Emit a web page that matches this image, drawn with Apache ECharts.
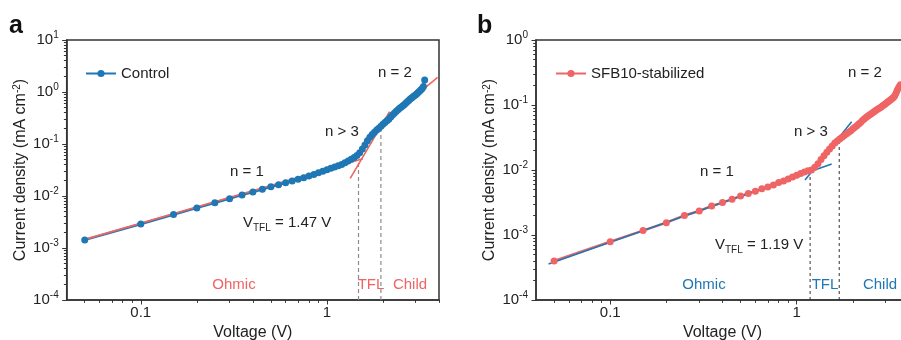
<!DOCTYPE html>
<html>
<head>
<meta charset="utf-8">
<script src="https://cdn.jsdelivr.net/npm/echarts@6/dist/echarts.min.js"></script>
<style>
  html, body { margin: 0; padding: 0; background: #fff; }
  #main { width: 901px; height: 340px; }
</style>
</head>
<body>
<div id="main"></div>
<script>
// Voltage steps of the J-V sweeps (V)
const voltage = [
  0.05, 0.10, 0.15, 0.20, 0.25, 0.30, 0.35, 0.40, 0.45, 0.50,
  0.55, 0.60, 0.65, 0.70, 0.75, 0.80, 0.85, 0.90, 0.95, 1.00,
  1.05, 1.10, 1.15, 1.20, 1.25, 1.30, 1.35, 1.40, 1.45, 1.50,
  1.55, 1.60, 1.65, 1.70, 1.75, 1.80, 1.85, 1.90, 1.95, 2.00,
  2.05, 2.10, 2.15, 2.20, 2.25, 2.30, 2.35, 2.40, 2.45, 2.50,
  2.55, 2.60, 2.65, 2.70, 2.75, 2.80, 2.85, 2.90, 2.95, 3.00,
  3.05, 3.10, 3.15, 3.20, 3.25, 3.30, 3.35, 3.40, 3.45, 3.50,
  3.55, 3.60
];

// Current density (mA cm-2), Control device
const controlJ = [
  1.43e-3, 2.9e-3, 4.4e-3, 5.9e-3, 7.4e-3, 8.9e-3, 1.05e-2, 1.19e-2, 1.35e-2, 1.5e-2,
  1.65e-2, 1.8e-2, 1.95e-2, 2.1e-2, 2.25e-2, 2.42e-2, 2.6e-2, 2.8e-2, 3.0e-2, 3.2e-2,
  3.4e-2, 3.6e-2, 3.8e-2, 4.05e-2, 4.35e-2, 4.7e-2, 5.1e-2, 5.5e-2, 6.0e-2, 6.8e-2,
  8.0e-2, 9.6e-2, 0.115, 0.135, 0.152, 0.168, 0.185, 0.20, 0.22, 0.24,
  0.26, 0.28, 0.30, 0.33, 0.36, 0.39, 0.42, 0.45, 0.48, 0.51,
  0.54, 0.57, 0.61, 0.65, 0.69, 0.73, 0.77, 0.81, 0.85, 0.89,
  0.94, 0.99, 1.04, 1.10, 1.17, 1.28, 1.70
];

// Current density (mA cm-2), SFB10-stabilized device
const sfbJ = [
  3.98e-4, 7.9e-4, 1.17e-3, 1.55e-3, 2.0e-3, 2.34e-3, 2.8e-3, 3.15e-3, 3.56e-3, 3.97e-3,
  4.35e-3, 4.7e-3, 5.15e-3, 5.5e-3, 5.9e-3, 6.4e-3, 6.8e-3, 7.25e-3, 7.8e-3, 8.3e-3,
  8.8e-3, 9.3e-3, 9.7e-3, 1.0e-2, 1.1e-2, 1.25e-2, 1.45e-2, 1.65e-2, 1.88e-2, 2.1e-2,
  2.35e-2, 2.6e-2, 2.8e-2, 3.0e-2, 3.2e-2, 3.4e-2, 3.6e-2, 3.8e-2, 4.0e-2, 4.3e-2,
  4.55e-2, 4.8e-2, 5.1e-2, 5.4e-2, 5.8e-2, 6.1e-2, 6.4e-2, 6.7e-2, 7.0e-2, 7.3e-2,
  7.6e-2, 7.9e-2, 8.2e-2, 8.5e-2, 8.8e-2, 9.1e-2, 9.4e-2, 9.8e-2, 0.101, 0.105,
  0.109, 0.113, 0.117, 0.121, 0.126, 0.131, 0.138, 0.150, 0.165, 0.180,
  0.192, 0.205
];

// Fitted segments [V, J]
const controlFitOhmic = [[0.0497, 1.45e-3], [1.56, 5.2e-2]];
const controlFitTfl = [[1.334, 2.19e-2], [2.17, 0.418]];
const controlFitChild = [[1.894, 0.215], [3.93, 1.92]];
const sfbFitOhmic = [[0.0467, 3.58e-4], [1.54, 1.236e-2]];
const sfbFitTfl = [[1.108, 7.0e-3], [1.97, 5.53e-2]];
const sfbFitChild = [[1.51, 2.43e-2], [3.37, 0.134]];

// Region boundaries [V, top J]
const controlBounds = [[1.478, 0.046], [1.95, 0.2]];
const sfbBounds = [[1.18, 9.3e-3], [1.69, 0.029]];

const xMajor = [0.1, 1];
const xMinor = [0.05, 0.06, 0.07, 0.08, 0.09, 0.2, 0.3, 0.4, 0.5, 0.6, 0.7, 0.8, 0.9, 2, 3, 4];
const yMajorA = [1e-4, 1e-3, 1e-2, 1e-1, 1, 10];
const yMajorB = [1e-4, 1e-3, 1e-2, 1e-1, 1];

const BLUE = '#1f77b4';
const RED = '#ef6464';
const AXIS = '#333';
const FONT = 'Liberation Sans, Arial, sans-serif';

function minorY(maxExp) {
  let out = [];
  for (let e = -4; e < maxExp; e++) {
    for (let m = 2; m <= 9; m++) out.push(m * Math.pow(10, e));
  }
  return out;
}

function pairs(xs, ys) {
  return ys.map((y, i) => [xs[i], y]);
}

function xAxes(grid) {
  return [
    {
      type: 'log', gridIndex: grid, min: 0.04, max: 4, position: 'bottom',
      name: 'Voltage (V)', nameLocation: 'middle', nameGap: 22,
      nameTextStyle: { fontSize: 16, color: '#222', fontFamily: FONT },
      axisLine: { lineStyle: { color: AXIS, width: 1.5 } },
      axisTick: { customValues: xMajor, length: 4.5, lineStyle: { color: AXIS } },
      axisLabel: { customValues: xMajor, margin: 5, fontSize: 15, color: '#222', fontFamily: FONT,
        formatter: v => String(v) },
      splitLine: { show: false }
    },
    {
      type: 'log', gridIndex: grid, min: 0.04, max: 4, position: 'bottom',
      axisLine: { show: false },
      axisTick: { customValues: xMinor, length: 2.8, lineStyle: { color: AXIS } },
      axisLabel: { show: false },
      splitLine: { show: false }
    }
  ];
}

function yAxes(grid, maxV, major) {
  return [
    {
      type: 'log', gridIndex: grid, min: 1e-4, max: maxV, position: 'left',
      name: 'Current density (mA cm{s|-2})', nameLocation: 'middle', nameGap: 38,
      nameTextStyle: { fontSize: 16, color: '#222', fontFamily: FONT,
        rich: { s: { fontSize: 10, verticalAlign: 'top', lineHeight: 10, fontFamily: FONT, color: '#222' } } },
      axisLine: { lineStyle: { color: AXIS, width: 1.5 } },
      axisTick: { customValues: major, length: 4.5, lineStyle: { color: AXIS } },
      axisLabel: {
        customValues: major, margin: 8, color: '#222',
        formatter: v => '{b|10}{s|' + Math.round(Math.log10(v)) + '}',
        rich: {
          b: { fontSize: 15, lineHeight: 20, verticalAlign: 'middle', fontFamily: FONT, color: '#222' },
          s: { fontSize: 10, lineHeight: 10, verticalAlign: 'top', fontFamily: FONT, color: '#222' }
        }
      },
      splitLine: { show: false }
    },
    {
      type: 'log', gridIndex: grid, min: 1e-4, max: maxV, position: 'left',
      axisLine: { show: false },
      axisTick: { customValues: minorY(Math.round(Math.log10(maxV))), length: 2.8, lineStyle: { color: AXIS } },
      axisLabel: { show: false },
      splitLine: { show: false }
    }
  ];
}

function boundSeries(bounds, xi, yi, color, width, dash) {
  return bounds.map(b => ({
    type: 'line', xAxisIndex: xi, yAxisIndex: yi, silent: true,
    data: [[b[0], 1e-4], [b[0], b[1]]],
    symbol: 'none', lineStyle: { color: color, width: width, type: dash }
  }));
}

function fitSeries(seg, xi, yi, color) {
  return {
    type: 'line', xAxisIndex: xi, yAxisIndex: yi, silent: true,
    data: seg, symbol: 'none', lineStyle: { color: color, width: 1.6 }
  };
}

function txt(x, y, text, color) {
  return {
    type: 'text', x: x, y: y,
    style: { text: text, fill: color || '#222', font: '15px ' + FONT, textAlign: 'center', textVerticalAlign: 'middle' }
  };
}

function vtfl(x, y, val) {
  return {
    type: 'text', x: x, y: y,
    style: {
      text: '{m|V}{u|TFL}{m| = ' + val + ' V}',
      textAlign: 'left', textVerticalAlign: 'middle',
      rich: {
        m: { fontSize: 15, lineHeight: 20, fontFamily: FONT, fill: '#222', verticalAlign: 'middle' },
        u: { fontSize: 10, lineHeight: 10, fontFamily: FONT, fill: '#222', verticalAlign: 'bottom' }
      }
    }
  };
}

let series = [];
series = series.concat(boundSeries(controlBounds, 0, 0, '#8c8c8c', 1.2, [4, 3]));
series.push({
  name: 'Control', type: 'line', xAxisIndex: 0, yAxisIndex: 0,
  data: pairs(voltage, controlJ), symbol: 'circle', symbolSize: 7, showAllSymbol: true,
  itemStyle: { color: BLUE }, lineStyle: { color: BLUE, width: 2.5 }
});
series.push(fitSeries(controlFitOhmic, 0, 0, RED));
series.push(fitSeries(controlFitTfl, 0, 0, RED));
series.push(fitSeries(controlFitChild, 0, 0, RED));

series = series.concat(boundSeries(sfbBounds, 2, 2, '#333', 1, [3, 3]));
series.push({
  name: 'SFB10-stabilized', type: 'line', xAxisIndex: 2, yAxisIndex: 2,
  data: pairs(voltage, sfbJ), symbol: 'circle', symbolSize: 7, showAllSymbol: true,
  itemStyle: { color: RED }, lineStyle: { color: RED, width: 2.5 }
});
series.push(fitSeries(sfbFitOhmic, 2, 2, BLUE));
series.push(fitSeries(sfbFitTfl, 2, 2, BLUE));
series.push(fitSeries(sfbFitChild, 2, 2, BLUE));

const chart = echarts.init(document.getElementById('main'), null, { renderer: 'canvas' });
chart.setOption({
  animation: false,
  backgroundColor: '#fff',
  grid: [
    { left: 66.7, top: 40, width: 372.3, height: 260, show: true, borderColor: AXIS, borderWidth: 1.5, outerBoundsMode: 'none' },
    { left: 536, top: 40, width: 373, height: 260, show: true, borderColor: AXIS, borderWidth: 1.5, outerBoundsMode: 'none' }
  ],
  xAxis: xAxes(0).concat(xAxes(1)),
  yAxis: yAxes(0, 10, yMajorA).concat(yAxes(1, 1, yMajorB)),
  legend: [
    { data: ['Control'], left: 80, top: 61, itemWidth: 30, itemHeight: 9,
      textStyle: { fontSize: 15, color: '#222', fontFamily: FONT } },
    { data: ['SFB10-stabilized'], left: 550, top: 61, itemWidth: 30, itemHeight: 9,
      textStyle: { fontSize: 15, color: '#222', fontFamily: FONT } }
  ],
  graphic: [
    { type: 'text', x: 9, y: 26, style: { text: 'a', font: 'bold 25px ' + FONT, fill: '#111', textVerticalAlign: 'middle' } },
    { type: 'text', x: 477, y: 26, style: { text: 'b', font: 'bold 25px ' + FONT, fill: '#111', textVerticalAlign: 'middle' } },
    txt(395, 73, 'n = 2'),
    txt(342, 132, 'n > 3'),
    txt(247, 172, 'n = 1'),
    vtfl(243, 223, '1.47'),
    txt(234, 285, 'Ohmic', RED),
    txt(371, 285, 'TFL', RED),
    txt(410, 285, 'Child', RED),
    txt(865, 73, 'n = 2'),
    txt(811, 132, 'n > 3'),
    txt(717, 172, 'n = 1'),
    vtfl(715, 245, '1.19'),
    txt(704, 285, 'Ohmic', BLUE),
    txt(825, 285, 'TFL', BLUE),
    txt(880, 285, 'Child', BLUE)
  ],
  series: series
});
</script>
</body>
</html>
